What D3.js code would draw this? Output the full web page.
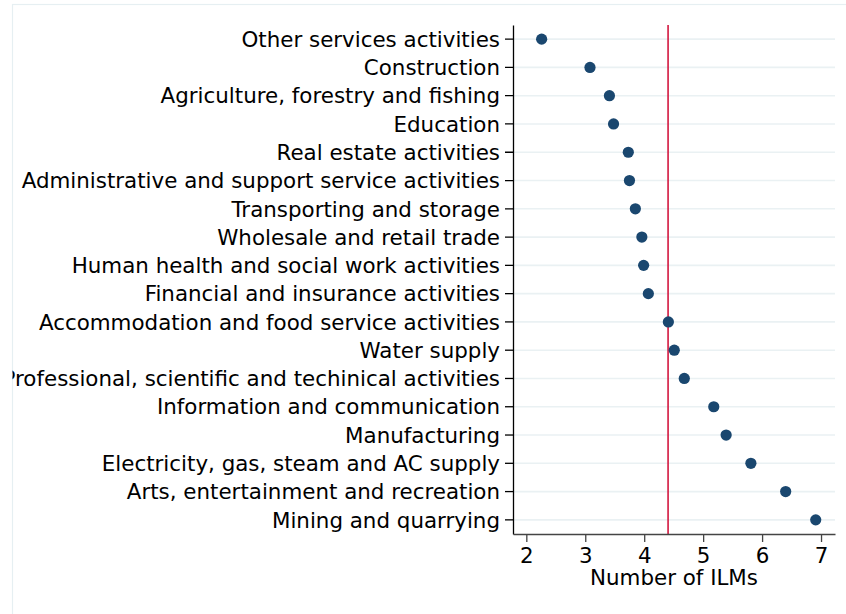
<!DOCTYPE html>
<html>
<head>
  <meta charset="utf-8">
  <title>Number of ILMs by sector</title>
  <style>
    body { margin: 0; background: #fff; }
    svg text { font-family: 'DejaVu Sans', sans-serif; fill: #000; }
  </style>
</head>
<body>
  <div id="plot"></div>
  <script src="https://cdn.jsdelivr.net/npm/d3@7"></script>
  <script>

    function translate(x, y) {
      return 'translate(' + x + ', ' + y + ')';
    }

    let sectors = [
      'Other services activities',
      'Construction',
      'Agriculture, forestry and fishing',
      'Education',
      'Real estate activities',
      'Administrative and support service activities',
      'Transporting and storage',
      'Wholesale and retail trade',
      'Human health and social work activities',
      'Financial and insurance activities',
      'Accommodation and food service activities',
      'Water supply',
      'Professional, scientific and techinical activities',
      'Information and communication',
      'Manufacturing',
      'Electricity, gas, steam and AC supply',
      'Arts, entertainment and recreation',
      'Mining and quarrying'
    ];
    let ilms = [2.26, 3.08, 3.41, 3.48, 3.73, 3.75, 3.85, 3.96, 3.99, 4.07,
                4.41, 4.51, 4.68, 5.18, 5.39, 5.81, 6.40, 6.91];
    let meanIlms = 4.405;
    let xTicks = [2, 3, 4, 5, 6, 7];
    let xTitle = 'Number of ILMs';

    let data = sectors.map((s, i) => ({sector: s, value: ilms[i]}));

    let svgWidth = 846;
    let svgHeight = 614;
    let margin = {top: 25, right: 11, bottom: 80, left: 513};
    let width = svgWidth - margin.left - margin.right;
    let height = svgHeight - margin.top - margin.bottom;
    let fontSize = '21.4px';

    let root = d3.select('#plot')
      .append('svg')
        .attr('width', svgWidth)
        .attr('height', svgHeight);

    root.append('defs')
      .append('clipPath')
        .attr('id', 'frame')
        .append('rect')
          .attr('x', 12.5)
          .attr('y', 4.5)
          .attr('width', svgWidth)
          .attr('height', svgHeight);

    // outer frame
    root.append('rect')
      .attr('x', 12.5)
      .attr('y', 4.5)
      .attr('width', svgWidth)
      .attr('height', svgHeight)
      .style('fill', '#fff')
      .style('stroke', '#e6eff2')
      .style('stroke-width', 1.2);

    let svg = root.append('g')
      .attr('clip-path', 'url(#frame)')
      .append('g')
        .attr('transform', translate(margin.left, margin.top));

    let x = d3.scaleLinear()
      .domain([1.774, 7.237])
      .range([0, width]);

    let y = d3.scaleBand()
      .domain(sectors)
      .range([0, height])
      .padding(0);

    // gridlines
    svg.append('g')
      .selectAll('line')
      .data(sectors)
      .enter()
      .append('line')
        .attr('x1', 0)
        .attr('x2', width)
        .attr('y1', d => y(d) + y.bandwidth() / 2)
        .attr('y2', d => y(d) + y.bandwidth() / 2)
        .style('stroke', '#eaf1f3')
        .style('stroke-width', 1.6);

    // mean line
    svg.append('line')
      .attr('x1', x(meanIlms))
      .attr('x2', x(meanIlms))
      .attr('y1', 0)
      .attr('y2', height)
      .style('stroke', '#d3173f')
      .style('stroke-width', 1.6);

    // dots
    svg.selectAll('circle')
      .data(data)
      .enter()
      .append('circle')
        .attr('cx', d => x(d.value))
        .attr('cy', d => y(d.sector) + y.bandwidth() / 2)
        .attr('r', 5.6)
        .style('fill', '#1a476f');

    let yAxis = d3.axisLeft(y)
      .tickSize(8)
      .tickPadding(5)
      .tickSizeOuter(0);

    let gy = svg.append('g')
      .attr('class', 'y axis')
      .call(yAxis);
    gy.select('.domain').style('stroke', '#000').style('stroke-width', 1.3);
    gy.selectAll('.tick line').style('stroke', '#000').style('stroke-width', 1.3);
    gy.selectAll('.tick text')
      .style('font-size', fontSize)
      .attr('dy', '0.36em');

    let xAxis = d3.axisBottom(x)
      .tickValues(xTicks)
      .tickFormat(d3.format('d'))
      .tickSize(8)
      .tickPadding(6)
      .tickSizeOuter(0);

    let gx = svg.append('g')
      .attr('class', 'x axis')
      .attr('transform', translate(0, height))
      .call(xAxis);
    gx.select('.domain').style('stroke', '#444').style('stroke-width', 1.3);
    gx.selectAll('.tick line').style('stroke', '#444').style('stroke-width', 1.3);
    gx.selectAll('.tick text')
      .style('font-size', fontSize);

    svg.append('text')
      .attr('x', width / 2)
      .attr('y', height + 51)
      .style('text-anchor', 'middle')
      .style('font-size', fontSize)
      .text(xTitle);

  </script>
</body>
</html>
